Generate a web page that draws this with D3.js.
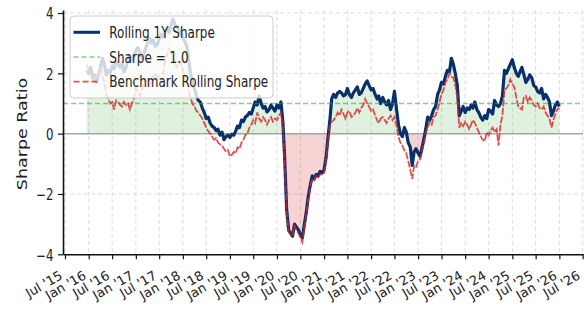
<!DOCTYPE html>
<html>
<head>
<meta charset="utf-8">
<script src="https://cdn.jsdelivr.net/npm/d3@7"></script>
<style>
  body { margin: 0; background: #fff; }
  text { font-family: "DejaVu Sans", sans-serif; fill: #222; }
</style>
</head>
<body>
<div id="chart"></div>
<script>
// data, semi-monthly samples (16th / 1st) starting Dec 16 2015
const strategy = [
  2.1, 2.0, 2.2, 1.85, 1.95, 1.7, 1.95, 2.2, 2.5, 2.3,
  1.95, 2.1, 2.0, 2.25, 2.15, 2.4, 2.3, 2.2, 2.35, 2.05,
  2.2, 2.45, 2.6, 2.4, 2.55, 2.75, 2.85, 2.7, 2.5, 2.6,
  2.8, 3.0, 3.15, 3.0, 3.1, 2.9, 2.95, 3.15, 3.3, 3.2,
  3.4, 3.5, 3.35, 3.6, 3.8, 3.6, 3.55, 3.45, 3.35, 3.2,
  3.05, 2.9, 2.4, 2.0, 1.75, 1.5, 1.25, 1.1, 1.05, 0.85,
  0.7, 0.5, 0.55, 0.35, 0.25, 0.2, 0.1, 0.15, -0.05, 0.05,
  -0.2, -0.1, -0.05, -0.12, -0.02, -0.05, 0.1, 0.25, 0.2, 0.45,
  0.4, 0.55, 0.6, 0.7, 0.65, 0.85, 1.05, 0.95, 1.25, 1.0,
  0.85, 0.9, 0.72, 0.8, 0.95, 0.85, 0.75, 0.95, 0.85, 1.05,
  0.4, -0.8, -2.5, -3.2, -3.3, -3.4, -3.0, -3.1, -3.2, -3.35,
  -3.45, -3.0, -2.6, -2.05, -1.7, -1.4, -1.5, -1.35, -1.4, -1.25,
  -1.3, -1.2, -0.8, -0.1, 0.5, 1.15, 1.3, 1.2, 1.35, 1.4,
  1.35, 1.25, 1.3, 1.5, 1.3, 1.2, 1.35, 1.45, 1.55, 1.3,
  1.35, 1.5, 1.65, 1.75, 1.6, 1.45, 1.5, 1.3, 1.15, 1.25,
  1.0, 1.2, 1.05, 0.95, 1.1, 0.8, 1.0, 1.4, 0.85, 0.3,
  0.0, -0.1, 0.2, 0.05, -0.3, -0.45, -1.05, -0.6, -0.5, -0.65,
  -0.75, -0.45, -0.15, 0.15, 0.55, 0.45, 0.6, 0.8, 0.9, 1.3,
  1.45, 1.7, 1.65, 1.9, 2.1, 2.05, 2.5, 2.3, 2.0, 1.6,
  0.6, 0.75, 0.9, 0.7, 0.85, 0.8, 0.95, 0.85, 1.05, 0.8,
  0.7, 0.55, 0.45, 0.6, 0.5, 0.8, 0.75, 0.65, 1.1, 0.95,
  0.9, 1.0, 1.25, 2.1, 2.0, 2.15, 2.3, 2.45, 2.2, 2.0,
  1.9, 2.05, 2.2, 1.95, 1.7, 1.8, 1.95, 1.85, 1.6, 1.55,
  1.4, 1.35, 1.5, 1.15, 1.3, 1.2, 1.05, 0.6, 0.75, 0.95,
  1.05, 0.9
]

const benchmark = [
  2.3, 2.1, 1.95, 1.75, 1.8, 1.95, 2.0, 2.2, 1.9, 1.7,
  1.3, 1.15, 1.0, 1.05, 0.8, 1.1, 1.05, 0.95, 0.9, 1.05,
  0.95, 1.0, 0.8, 1.0, 1.15, 1.5, 1.35, 1.25, 1.45, 1.6,
  1.8, 1.7, 1.6, 1.75, 1.9, 2.0, 1.85, 1.9, 1.75, 2.0,
  2.45, 2.6, 2.8, 2.7, 2.5, 2.35, 2.2, 2.3, 2.4, 2.1,
  1.85, 1.75, 1.4, 1.2, 1.0, 0.9, 0.75, 0.7, 0.6, 0.5,
  0.35, 0.2, 0.1, 0.0, -0.1, -0.2, -0.15, -0.3, -0.35, -0.4,
  -0.5, -0.6, -0.55, -0.75, -0.7, -0.6, -0.65, -0.45, -0.5, -0.3,
  -0.2, -0.05, 0.0, 0.2, 0.3, 0.45, 0.35, 0.7, 0.5, 0.4,
  0.55, 0.45, 0.3, 0.45, 0.55, 0.4, 0.5, 0.45, 0.6, 0.7,
  0.3, -0.9, -2.6, -3.25, -3.35, -3.35, -3.05, -3.2, -3.3, -3.45,
  -3.6, -3.1, -2.65, -2.15, -1.75, -1.5, -1.55, -1.4, -1.45, -1.35,
  -1.35, -1.3, -0.9, -0.2, 0.3, 0.4, 0.45, 0.55, 0.7, 0.6,
  0.8, 0.65, 0.5, 0.7, 0.75, 0.55, 0.6, 0.7, 0.85, 0.7,
  0.85, 0.95, 1.15, 1.0, 0.9, 0.75, 0.8, 0.6, 0.45, 0.35,
  0.5, 0.55, 0.45, 0.35, 0.5, 0.6, 0.45, 0.55, 0.3, -0.1,
  -0.3, -0.4, -0.55, -0.65, -0.9, -1.2, -1.5, -1.05, -1.1, -0.9,
  -0.85, -0.55, -0.3, 0.05, 0.2, 0.4, 0.3, 0.55, 0.6, 0.8,
  1.05, 1.3, 1.45, 1.7, 1.8, 2.0, 1.9, 1.85, 1.6, 1.2,
  0.2, 0.35, 0.25, 0.4, 0.3, 0.15, 0.3, 0.45, 0.35, 0.2,
  0.05, -0.1, -0.2, -0.25, 0.05, -0.05, 0.1, 0.2, 0.05, 0.15,
  -0.4, 0.3, 0.6, 1.45, 1.5, 1.6, 1.8, 1.65, 1.55, 1.2,
  0.9, 0.85, 0.8, 1.2, 1.25, 1.05, 1.2, 1.1, 0.95, 0.9,
  1.0, 0.85, 0.8, 0.9, 0.7, 0.6, 0.5, 0.2, 0.45, 0.65,
  0.8, 0.85
]

const yTicks = [-4, -2, 0, 2, 4]
const yTickLabels = ['\u22124', '\u22122', '0', '2', '4']
const sharpeTarget = 1.0
const legendLabels = ['Rolling 1Y Sharpe', 'Sharpe = 1.0', 'Benchmark Rolling Sharpe']
const yTitle = 'Sharpe Ratio'

const svgWidth = 585
const svgHeight = 313
const plot = { left: 63, right: 583, top: 10, bottom: 254.3 }

const navy = '#08306b'
const red = '#d62728'
const green = '#2ca02c'

// 1st / 16th of each month
const dates = strategy.map((d, i) => new Date(2015, 11 + Math.floor((i + 1) / 2), i % 2 === 0 ? 16 : 1))
const rows = dates.map((d, i) => ({ date: d, s: strategy[i], b: benchmark[i] }))

const svg = d3.select('#chart').append('svg')
  .attr('width', svgWidth)
  .attr('height', svgHeight)

// matplotlib-like 5% margin on the date axis
const t0 = +dates[0], t1 = +dates[dates.length - 1]
const pad = (t1 - t0) * 0.05
const x = d3.scaleTime()
  .domain([new Date(t0 - pad), new Date(t1 + pad)])
  .range([plot.left, plot.right])
const y = d3.scaleLinear().domain([-4, 4.1]).range([plot.bottom, plot.top])

const xTicks = d3.timeMonth.range(new Date(2015, 6, 1), new Date(2026, 7, 1), 6)
const fmt = d3.timeFormat("%b '%y")

// grid
const grid = svg.append('g')
grid.selectAll('.vg').data(xTicks).join('line')
  .attr('x1', d => x(d)).attr('x2', d => x(d))
  .attr('y1', plot.top).attr('y2', plot.bottom)
  .attr('stroke', '#dcdcdc').attr('stroke-width', 1).attr('stroke-dasharray', '4,3')
grid.selectAll('.hg').data(yTicks).join('line')
  .attr('x1', plot.left).attr('x2', plot.right)
  .attr('y1', d => y(d)).attr('y2', d => y(d))
  .attr('stroke', '#dcdcdc').attr('stroke-width', 1).attr('stroke-dasharray', '4,3')

// fills above / below zero
const areaPos = d3.area().x(d => x(d.date)).y0(y(0)).y1(d => y(Math.max(0, d.s)))
const areaNeg = d3.area().x(d => x(d.date)).y0(y(0)).y1(d => y(Math.min(0, d.s)))
svg.append('path').datum(rows).attr('d', areaPos).attr('fill', green).attr('fill-opacity', 0.15)
svg.append('path').datum(rows).attr('d', areaNeg).attr('fill', red).attr('fill-opacity', 0.2)

// zero line
svg.append('line')
  .attr('x1', plot.left).attr('x2', plot.right)
  .attr('y1', y(0)).attr('y2', y(0))
  .attr('stroke', '#999').attr('stroke-width', 1.5).attr('stroke-opacity', 0.85)

// strategy line
const lineS = d3.line().x(d => x(d.date)).y(d => y(d.s))
const lineB = d3.line().x(d => x(d.date)).y(d => y(d.b))
svg.append('path').datum(rows).attr('d', lineS)
  .attr('fill', 'none').attr('stroke', navy).attr('stroke-width', 3.2).attr('stroke-linejoin', 'round')

// target line
svg.append('line')
  .attr('x1', plot.left).attr('x2', plot.right)
  .attr('y1', y(sharpeTarget)).attr('y2', y(sharpeTarget))
  .attr('stroke', green).attr('stroke-opacity', 0.55).attr('stroke-width', 1.4).attr('stroke-dasharray', '5,3')

// benchmark
svg.append('path').datum(rows).attr('d', lineB)
  .attr('fill', 'none').attr('stroke', red).attr('stroke-opacity', 0.8)
  .attr('stroke-width', 1.8).attr('stroke-dasharray', '7,1.5')

// axes
const xAxisGroup = svg.append('g').attr('transform', `translate(0, ${plot.bottom})`)
xAxisGroup.call(d3.axisBottom(x).tickValues(xTicks).tickSize(5).tickSizeOuter(0).tickFormat(''))
const yAxisGroup = svg.append('g').attr('transform', `translate(${plot.left}, 0)`)
yAxisGroup.call(d3.axisLeft(y).tickValues(yTicks).tickSize(5).tickSizeOuter(0).tickFormat(''))
svg.selectAll('.domain').attr('stroke', '#111').attr('stroke-width', 1.6)
svg.selectAll('.tick line').attr('stroke', '#111').attr('stroke-width', 1.2)

// x tick labels, rotated
svg.append('g').selectAll('text').data(xTicks).join('text')
  .attr('transform', d => `translate(${x(d) - 1.5}, 278) rotate(-30)`)
  .attr('text-anchor', 'end')
  .attr('font-size', 13)
  .text(d => fmt(d))

// y tick labels (narrow glyphs like the reference)
svg.append('g').selectAll('text').data(yTicks).join('text')
  .attr('transform', d => `translate(53.5, ${y(d) + 6.3}) scale(0.76, 1)`)
  .attr('text-anchor', 'end')
  .attr('font-size', 15.5)
  .text((d, i) => yTickLabels[i])

svg.append('text')
  .attr('transform', `translate(27, 134) scale(0.85, 1) rotate(-90)`)
  .attr('text-anchor', 'middle')
  .attr('font-size', 17.5)
  .text(yTitle)

// legend
const legendGroup = svg.append('g')
legendGroup.append('rect')
  .attr('x', 70).attr('y', 16).attr('width', 203).attr('height', 82).attr('rx', 4)
  .attr('fill', '#fff').attr('fill-opacity', 0.8)
  .attr('stroke', '#ccc').attr('stroke-width', 1)

const legendItems = [
  { label: legendLabels[0], color: navy, width: 3, dash: null, op: 1 },
  { label: legendLabels[1], color: green, width: 1.4, dash: '5,3', op: 0.55 },
  { label: legendLabels[2], color: red, width: 1.8, dash: '6,3', op: 0.8 }
]
legendItems.forEach((it, i) => {
  const ry = 32.3 + i * 24.7
  legendGroup.append('line')
    .attr('x1', 73.5).attr('x2', 100).attr('y1', ry).attr('y2', ry)
    .attr('stroke', it.color).attr('stroke-width', it.width)
    .attr('stroke-opacity', it.op)
    .attr('stroke-dasharray', it.dash)
  legendGroup.append('text')
    .attr('transform', `translate(109.3, ${ry + 5.6}) scale(0.775, 1)`)
    .attr('font-size', 15.5)
    .text(it.label)
})
</script>
</body>
</html>
